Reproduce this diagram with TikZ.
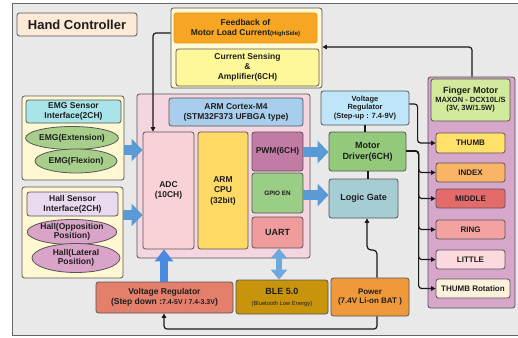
\documentclass[tikz,border=0pt]{standalone}
\usepackage{fontspec}
\setmainfont{Liberation Sans}
\usetikzlibrary{arrows.meta,shapes.geometric,calc}
\definecolor{linec}{HTML}{555555}
\definecolor{bgc}{HTML}{E9E9E9}
\definecolor{txt}{HTML}{1E1E1E}
\definecolor{ablue}{HTML}{5B9BD5}
\definecolor{ablue2}{HTML}{4A8BE0}
\definecolor{ablue3}{HTML}{6FA8DC}
\definecolor{cHC}{HTML}{FCE9D6}
\definecolor{cFBO}{HTML}{FFF9D5}
\definecolor{cFBd}{HTML}{E6961A}
\definecolor{cFB}{HTML}{F6A623}
\definecolor{cCS}{HTML}{FFF89A}
\definecolor{cGRP}{HTML}{FFF8D2}
\definecolor{cEMGH}{HTML}{A9E4EA}
\definecolor{cEMGE}{HTML}{A7CF8B}
\definecolor{cHALLH}{HTML}{E9DAF0}
\definecolor{cHALLE}{HTML}{D9A4C8}
\definecolor{cARMO}{HTML}{F5D6E0}
\definecolor{cARMH}{HTML}{A8CDED}
\definecolor{cADC}{HTML}{F9D2D7}
\definecolor{cCPU}{HTML}{FFD966}
\definecolor{cPWM}{HTML}{C27BA5}
\definecolor{cGPIO}{HTML}{9ACD85}
\definecolor{cUART}{HTML}{F19C9C}
\definecolor{cVRU}{HTML}{BFE5F8}
\definecolor{cMD}{HTML}{93C97B}
\definecolor{cLG}{HTML}{A6CDD4}
\definecolor{cFMO}{HTML}{D7A6CB}
\definecolor{cFMH}{HTML}{D2EA9C}
\definecolor{cTH}{HTML}{FFE16A}
\definecolor{cIN}{HTML}{F9B466}
\definecolor{cMI}{HTML}{E56B6B}
\definecolor{cRI}{HTML}{F3A1A1}
\definecolor{cLI}{HTML}{FCD9DE}
\definecolor{cTR}{HTML}{FEF1DC}
\definecolor{cVRD}{HTML}{E47F6C}
\definecolor{cBLE}{HTML}{C7940B}
\definecolor{cPWR}{HTML}{F0993A}
\newcommand{\placebox}[7]{%
  \node[#6, minimum width={#4-#2}, minimum height={#5-#3}] (#1) at ({(#2+#4)/2},{(#3+#5)/2}) {#7};}
\newcommand{\fz}[1]{\fontsize{#1}{#1}\selectfont}
\begin{document}
\begin{tikzpicture}[x=1pt,y=-1pt,
  box/.style={draw=linec, line width=0.8pt, rounded corners=2.5pt, align=center, inner sep=1pt,
    text=txt, font=\bfseries\fontsize{8.5}{10}\selectfont},
  ell/.style={ellipse, draw=linec, line width=0.8pt, align=center, inner sep=0pt,
    text=txt, font=\bfseries\fontsize{8.5}{9.5}\selectfont},
  conn/.style={draw=black!90, line width=1.2pt, rounded corners=3pt, -{Triangle[length=4.5pt,width=4.5pt]}},
  plainline/.style={draw=black!90, line width=1.2pt},
  barrow/.style={draw=ablue, line width=10pt, -{Triangle[length=11pt,width=22pt]}},
]
\useasboundingbox (0,0) rectangle (518,337);
\fill[white] (0,0) rectangle (518,337);
\draw[fill=bgc, draw=gray!80!black, line width=0.8pt] (12,3) rectangle (522,335);

% title
\placebox{hc}{17}{13}{137}{36}{box, fill=cHC, font=\bfseries\fontsize{13}{15}\selectfont}{Hand Controller}

% feedback group
\placebox{fbo}{171}{8}{322}{88}{box, fill=cFBO}{}
\placebox{fb}{174}{13}{317}{43}{box, draw=cFBd, fill=cFB}{Feedback of\\Motor Load Current{\fz{6}(HighSide)}}
\placebox{cs}{176}{49}{319}{86}{box, fill=cCS}{Current Sensing\\\&\\Amplifier(6CH)}

% EMG group
\placebox{emgo}{22}{96}{124}{180}{box, fill=cGRP}{}
\placebox{emgh}{26}{100}{121}{123}{box, fill=cEMGH}{EMG Sensor\\Interface(2CH)}
\node[ell, fill=cEMGE, minimum width=82pt, minimum height=23pt] (emge) at (72,138) {EMG(Extension)};
\node[ell, fill=cEMGE, minimum width=82pt, minimum height=24pt] (emgf) at (76,161) {EMG(Flexion)};

% Hall group
\placebox{hallo}{22}{187}{123}{278}{box, fill=cGRP}{}
\placebox{hallh}{27}{192}{118}{216}{box, fill=cHALLH}{Hall Sensor\\Interface(2CH)}
\node[ell, fill=cHALLE, minimum width=86pt, minimum height=25pt, font=\bfseries\fontsize{8.5}{9}\selectfont] (hallop) at (72,232) {Hall(Opposition\\Position)};
\node[ell, fill=cHALLE, minimum width=88pt, minimum height=29pt, font=\bfseries\fontsize{8.5}{9.5}\selectfont] (hallla) at (76,258) {Hall(Lateral\\Position)};

% ARM group
\placebox{armo}{137}{94}{310}{258}{box, fill=cARMO}{}
\placebox{armh}{169}{98}{303}{126}{box, fill=cARMH}{ARM Cortex-M4\\(STM32F373 UFBGA type)}
\placebox{adc}{143}{132}{194}{249}{box, fill=cADC}{ADC\\(10CH)}
\placebox{cpu}{198}{132}{248}{249}{box, fill=cCPU, font=\bfseries\fontsize{8.5}{10.5}\selectfont}{ARM\\CPU\\(32bit)}
\placebox{pwm}{252}{132}{303}{171}{box, fill=cPWM}{PWM(6CH)}
\placebox{gpio}{252}{173}{303}{213}{box, fill=cGPIO, font=\bfseries\fontsize{6.3}{7}\selectfont}{GPIO EN}
\placebox{uart}{252}{217}{303}{248}{box, fill=cUART, font=\bfseries\fontsize{9}{10}\selectfont}{UART}

% driver column
\placebox{vru}{321}{91}{409}{125}{box, fill=cVRU, font=\bfseries\fontsize{7.5}{8.6}\selectfont}{Voltage\\Regulator\\(Step-up : 7.4-9V)}
\placebox{md}{329}{132}{406}{171}{box, fill=cMD, font=\bfseries\fontsize{9}{11}\selectfont}{Motor\\Driver(6CH)}
\placebox{lg}{329}{179}{398}{218}{box, fill=cLG, font=\bfseries\fontsize{9}{10}\selectfont}{Logic Gate}

% finger motor group
\placebox{fmo}{428}{77}{515}{308}{box, fill=cFMO}{}
\placebox{fmh}{431}{79}{510}{121}{box, fill=cFMH, font=\bfseries\fontsize{7.5}{8.5}\selectfont}{{\fontsize{9}{9}\selectfont Finger Motor}\\MAXON - DCX10L/S\\(3V, 3W/1.5W)}
\placebox{thumb}{436}{133}{505}{153}{box, fill=cTH, font=\bfseries\fontsize{8}{9}\selectfont}{THUMB}
\placebox{index}{436}{163}{505}{182}{box, fill=cIN, font=\bfseries\fontsize{8}{9}\selectfont}{INDEX}
\placebox{middle}{436}{189}{505}{208}{box, fill=cMI, font=\bfseries\fontsize{8}{9}\selectfont}{MIDDLE}
\placebox{ring}{436}{220}{505}{239}{box, fill=cRI, font=\bfseries\fontsize{8}{9}\selectfont}{RING}
\placebox{little}{436}{250}{505}{269}{box, fill=cLI, font=\bfseries\fontsize{8}{9}\selectfont}{LITTLE}
\placebox{thumbr}{436}{279}{510}{298}{box, fill=cTR, font=\bfseries\fontsize{8}{9}\selectfont}{THUMB Rotation}

% bottom row
\placebox{vrd}{96}{282}{233}{313}{box, fill=cVRD}{Voltage Regulator\\(Step down :{\fz{7}7.4-5V / 7.4-3.3V})}
\placebox{ble}{236}{280}{328}{314}{box, fill=cBLE, font=\bfseries\fontsize{9}{11}\selectfont}{BLE 5.0\\{\mdseries\fz{5.8}(Bluetooth Low Energy)}}
\placebox{pwr}{331}{278}{409}{316}{box, fill=cPWR, font=\bfseries\fontsize{8}{9.5}\selectfont}{Power\\(7.4V Li-on BAT )}

% connectors
\draw[conn] (fbo.west |- 0,33) -| (adc.north -| 153,0);
\draw[conn] (fmo.north -| 472,0) |- (fbo.east |- 0,47);
\draw[conn] (vru.east |- 0,104) -| ($(thumb.west)+(-18,0)$) -- (thumb.west);
\foreach \f in {index,middle,ring,little,thumbr}{
  \draw[conn] (md.east |- 0,151) -| ($(\f.west)+(-17,0)$) -- (\f.west);
}
\draw[plainline] (vru.south -| 365,0) -- (md.north -| 365,0);
\draw[plainline] (md.south -| 368,0) -- (lg.north -| 368,0);
\draw[conn, rounded corners=4pt] (pwr.north -| 377,0) -- (377,250) -- (367,250) -- (lg.south -| 367,0);
\draw[conn] (pwr.south -| 377,0) -- (377,329) -| (vrd.south -| 164,0);

% block arrows
\draw[barrow] (emgo.east |- 0,150) -- (adc.west |- 0,150);
\draw[barrow] (hallo.east |- 0,215) -- (adc.west |- 0,215);
\draw[barrow] (pwm.east |- 0,152) -- (md.west |- 0,152);
\draw[barrow] (gpio.east |- 0,195) -- (lg.west |- 0,195);
\draw[draw=ablue2, line width=8pt, -{Triangle[length=12pt,width=18pt]}] (vrd.north -| 164,0) -- (adc.south -| 164,0);
\draw[draw=ablue3, line width=6pt, {Triangle[length=10pt,width=16pt]}-{Triangle[length=10pt,width=16pt]}] (uart.south -| 279,0) -- (ble.north -| 279,0);
\end{tikzpicture}
\end{document}
